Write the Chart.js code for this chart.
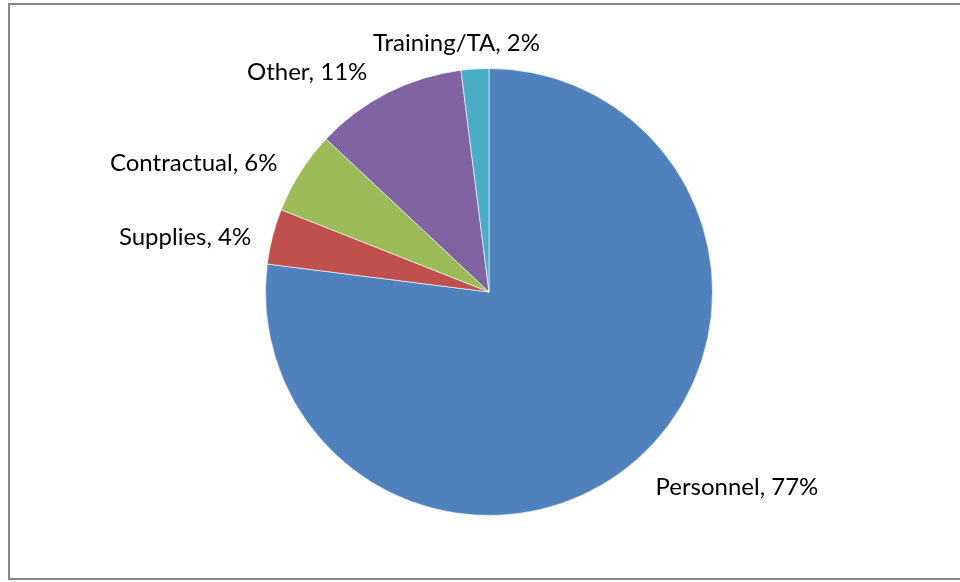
<!DOCTYPE html>
<html>
<head>
<meta charset="utf-8">
<script src="https://cdn.jsdelivr.net/npm/chart.js@4"></script>
<style>
  html, body { margin: 0; padding: 0; background: #fff; }
  #wrap { width: 960px; height: 582px; position: relative; }
</style>
</head>
<body>
<div id="wrap"><canvas id="pieChart" width="960" height="582"></canvas></div>
<script>
// données
const categories = ['Personnel', 'Supplies', 'Contractual', 'Other', 'Training/TA'];
const shares = [77, 4, 6, 11, 2];
const colors = ['#4F81BD', '#C0504D', '#9BBB59', '#8064A2', '#4BACC6'];

// cadre gris autour du graphique
const frame = {
  id: 'frame',
  beforeDraw(chart) {
    const ctx = chart.ctx;
    ctx.save();
    ctx.strokeStyle = '#878787';
    ctx.lineWidth = 2;
    ctx.strokeRect(9, 4, 960, 575);
    ctx.restore();
  }
};

// étiquettes "catégorie, xx%" à l'extérieur des parts
// petit décalage à la main pour coller au placement d'Excel
const shift = [[33, 4], [-4, 9], [-19, 8], [-44, 8], [-12, 6]];
const outsideLabels = {
  id: 'outsideLabels',
  afterDatasetsDraw(chart) {
    const ctx = chart.ctx;
    const meta = chart.getDatasetMeta(0);
    ctx.save();
    ctx.font = '24px Lato, "Noto Sans", sans-serif';
    ctx.fillStyle = '#000';
    ctx.textBaseline = 'middle';
    ctx.textAlign = 'center';
    meta.data.forEach((arc, i) => {
      const mid = (arc.startAngle + arc.endAngle) / 2;
      const dx = Math.cos(mid), dy = Math.sin(mid);
      const r = arc.outerRadius + 20;
      const ax = arc.x + dx * r, ay = arc.y + dy * r;
      const text = categories[i] + ', ' + shares[i] + '%';
      const w = ctx.measureText(text).width;
      const cx = ax + dx * w / 2 + shift[i][0];
      const cy = ay + dy * 12 + shift[i][1];
      ctx.fillText(text, cx, cy);
    });
    ctx.restore();
  }
};

const ctx = document.getElementById('pieChart').getContext('2d');
const myPie = new Chart(ctx, {
  type: 'pie',
  data: {
    labels: categories,
    datasets: [{
      data: shares,
      backgroundColor: colors,
      borderColor: 'rgba(255,255,255,0.6)',
      borderWidth: 1
    }]
  },
  options: {
    responsive: false,
    animation: false,
    layout: { padding: { left: 265, right: 247, top: 68, bottom: 66 } },
    plugins: {
      legend: { display: false },
      tooltip: { enabled: false }
    }
  },
  plugins: [frame, outsideLabels]
});
</script>
</body>
</html>
